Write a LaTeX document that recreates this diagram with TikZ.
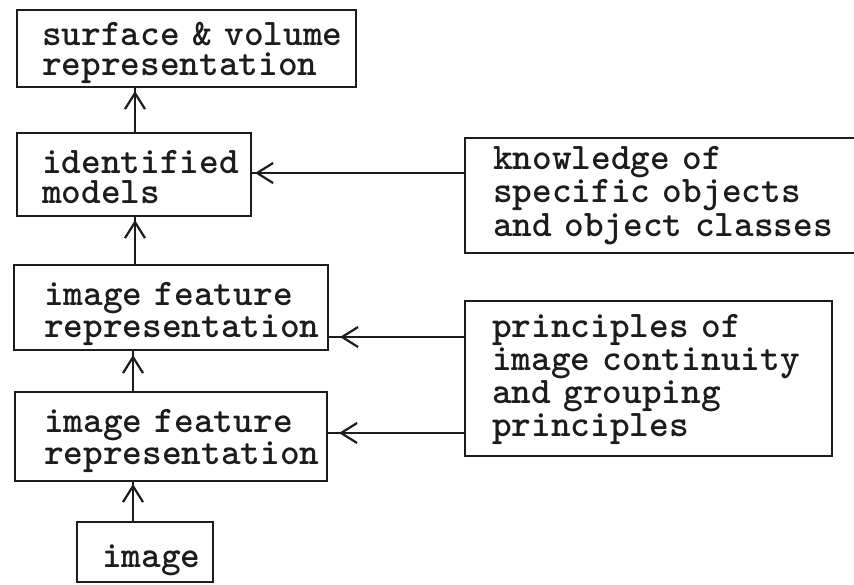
\documentclass[tikz,border=0pt]{standalone}
\usetikzlibrary{arrows.meta}
\definecolor{ink}{RGB}{28,28,28}
\newcommand\twfont[1]{\ttfamily\bfseries\fontsize{37.5}{#1}\selectfont
  \fontdimen2\font=0.52em\fontdimen3\font=0pt\fontdimen4\font=0pt\relax}
\begin{document}
\begin{tikzpicture}[x=1pt,y=-1pt,
  box/.style={draw=ink, line width=2.6pt, rectangle, inner ysep=0pt, outer sep=0pt,
    align=left, text=ink, font=\twfont{30.5}},
  rbox/.style={box, font=\twfont{33.5}},
  conn/.style={draw=ink, line width=2.2pt},
  tip/.style={conn, -{Straight Barb[length=16pt,width=20pt]}}]
\fill[white] (0,0) rectangle (854,584);
\useasboundingbox (0,0) rectangle (854,584);

% left column
\node[box, minimum width=339pt, inner xsep=25pt, text width=289pt, text height=35pt, text depth=42pt]
  (b1) at (186.5,48.5) {\mbox{surface \& volume}\\\mbox{representation}};
\node[box, minimum width=234pt, inner xsep=25pt, text width=184pt, text height=40pt, text depth=43pt]
  (b2) at (134,174.5) {\mbox{identified}\\\mbox{models}};
\node[box, minimum width=314pt, inner xsep=30pt, text width=254pt, text height=40pt, text depth=45pt]
  (b3) at (171,307.5) {\mbox{image feature}\\\mbox{representation}};
\node[box, minimum width=312pt, inner xsep=29pt, text width=254pt, text height=40pt, text depth=49pt]
  (b4) at (171,436.5) {\mbox{image feature}\\\mbox{representation}};
\node[box, minimum width=136pt, inner xsep=25pt, text width=86pt, text height=45pt, text depth=15pt]
  (b5) at (145,552) {\mbox{image}};

% right column
\node[rbox, minimum width=400pt, inner xsep=28pt, text width=344pt, text height=31pt, text depth=84pt]
  (k) at (665,195.5) {\mbox{knowledge of}\\\mbox{specific objects}\\\mbox{and object classes}};
\node[rbox, font=\twfont{33}, minimum width=367pt, inner xsep=27pt, text width=313pt, text height=36pt, text depth=119pt]
  (p) at (648.5,378.5) {\mbox{principles of}\\\mbox{image continuity}\\\mbox{and grouping}\\\mbox{principles}};

% guide coordinates for connector positions
\coordinate (va) at (135,0);
\coordinate (vb) at (133,0);
\coordinate (hk) at (0,173);
\coordinate (hp) at (0,337);
\coordinate (hq) at (0,433);

% vertical connectors
\draw[conn] (va |- b2.north) -- (va |- b1.south);
\draw[tip, shorten >=4pt] (va |- b2.north) -- (va |- b1.south);
\draw[conn] (va |- b3.north) -- (va |- b2.south);
\draw[tip, shorten >=4pt] (va |- b3.north) -- (va |- b2.south);
\draw[conn] (vb |- b4.north) -- (vb |- b3.south);
\draw[tip, shorten >=5pt] (vb |- b4.north) -- (vb |- b3.south);
\draw[conn] (vb |- b5.north) -- (vb |- b4.south);
\draw[tip, shorten >=3pt] (vb |- b5.north) -- (vb |- b4.south);

% horizontal connectors
\draw[conn] (k.west |- hk) -- (b2.east |- hk);
\draw[tip, shorten >=4pt] (k.west |- hk) -- (b2.east |- hk);
\draw[conn] (p.west |- hp) -- (b3.east |- hp);
\draw[tip, shorten >=12pt] (p.west |- hp) -- (b3.east |- hp);
\draw[conn] (p.west |- hq) -- (b4.east |- hq);
\draw[tip, shorten >=12pt] (p.west |- hq) -- (b4.east |- hq);
\end{tikzpicture}
\end{document}
